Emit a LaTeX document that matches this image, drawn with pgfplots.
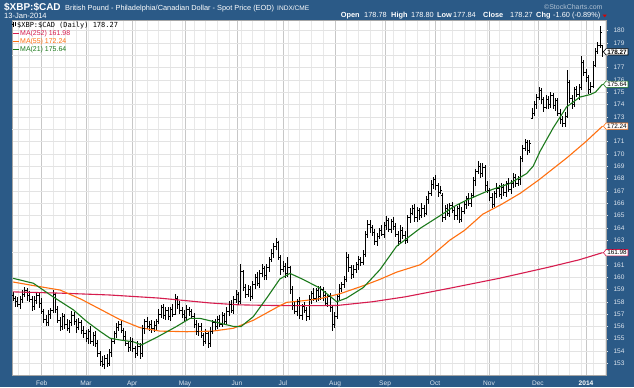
\documentclass[border=0pt]{standalone}
\usepackage{fontspec}
\setmainfont{Liberation Sans}
\newfontfamily\monof{DejaVu Sans Mono}
\usepackage{pgfplots}
\usepackage{pgfplotstable}
\pgfplotsset{compat=1.18}
\usetikzlibrary{shapes.symbols}
\definecolor{scblue}{RGB}{43,90,135}
\definecolor{ma252}{RGB}{214,28,78}
\definecolor{ma55}{RGB}{255,112,16}
\definecolor{ma21}{RGB}{28,122,28}
\definecolor{ticktxt}{RGB}{220,228,238}
\definecolor{scgray}{RGB}{175,192,210}
\pgfdeclareplotmark{ctick}{\pgfpathmoveto{\pgfqpoint{0pt}{0pt}}\pgfpathlineto{\pgfqpoint{1.4pt}{0pt}}\pgfusepathqstroke}
\pgfdeclareplotmark{otick}{\pgfpathmoveto{\pgfqpoint{-1.4pt}{0pt}}\pgfpathlineto{\pgfqpoint{0pt}{0pt}}\pgfusepathqstroke}
\newcommand\fs[1]{\fontsize{#1}{#1}\selectfont}

\pgfplotstableread{
i o h l c
0 158.5 158.8 158.05 158.3
1 158.3 158.5 157.6 158.0
2 158.0 158.4 157.6 157.8
3 157.8 158.45 157.45 158.2
4 158.2 158.95 157.9 158.6
5 158.6 159.2 158.35 158.9
6 158.9 159.1 158.1 158.5
7 158.5 158.9 158.0 158.2
8 158.2 158.45 157.25 157.6
9 157.6 158.45 157.3 158.1
10 158.1 158.8 157.85 158.5
11 158.5 158.7 157.5 157.9
12 157.9 158.3 157.0 157.2
13 157.2 157.45 156.25 156.6
14 156.6 156.95 156.0 156.3
15 156.3 157.3 156.05 157.0
16 157.0 157.5 156.6 157.3
17 157.3 158.95 157.1 158.6
18 158.6 158.7 157.05 157.4
19 157.4 157.65 156.3 156.5
20 156.5 156.8 155.65 156.0
21 156.0 157.1 155.75 156.8
22 156.8 157.0 155.8 156.2
23 156.2 156.6 155.6 155.8
24 155.8 156.55 155.45 156.3
25 156.3 157.25 156.0 156.9
26 156.9 157.2 156.15 156.4
27 156.4 156.6 155.5 155.9
28 155.9 156.7 155.7 156.3
29 156.3 156.55 155.35 155.7
30 155.7 156.05 155.1 155.4
31 155.4 155.7 154.75 155.0
32 155.0 155.8 154.6 155.6
33 155.6 156.0 154.6 154.8
34 154.8 155.55 154.45 155.3
35 155.3 155.65 154.3 154.6
36 154.6 154.9 153.55 153.8
37 153.8 154.0 152.8 153.2
38 153.2 153.6 152.7 152.9
39 152.9 153.65 152.55 153.4
40 153.4 153.75 152.7 153.0
41 153.0 154.2 152.75 153.9
42 153.9 155.0 153.5 154.8
43 154.8 155.6 154.6 155.4
44 155.4 156.25 155.05 155.9
45 155.9 156.45 155.6 156.2
46 156.2 156.5 155.45 155.7
47 155.7 155.9 154.8 155.2
48 155.2 155.6 154.4 154.6
49 154.6 154.85 153.95 154.3
50 154.3 155.15 154.0 154.8
51 154.8 155.1 153.95 154.2
52 154.2 154.4 153.4 153.8
53 153.8 154.8 153.6 154.4
54 154.4 154.65 153.35 153.7
55 153.8 156.15 153.5 155.8
56 155.8 156.6 155.4 156.4
57 156.4 156.8 155.8 156.0
58 156.0 156.45 155.65 156.2
59 156.2 156.55 155.5 155.8
60 155.8 156.4 155.55 156.1
61 156.1 156.6 155.7 156.4
62 156.4 157.4 156.2 157.0
63 157.0 157.75 156.65 157.5
64 157.5 157.85 156.6 156.9
65 156.9 157.55 156.55 157.3
66 157.3 157.6 156.5 156.8
67 156.8 157.6 156.4 157.4
68 157.4 157.8 156.8 157.0
69 157.0 158.6 156.9 158.3
70 158.3 158.5 157.45 157.8
71 157.8 158.1 157.0 157.3
72 157.3 157.55 156.7 157.0
73 157.0 157.35 156.45 156.7
74 156.7 157.7 156.4 157.4
75 157.4 157.6 156.85 157.2
76 157.2 157.4 156.6 156.8
77 156.8 157.05 155.85 156.2
78 156.2 156.5 155.3 155.6
79 155.6 156.25 155.2 156.0
80 156.0 156.3 155.05 155.3
81 155.3 155.5 154.4 154.8
82 154.8 155.8 154.6 155.4
83 155.4 155.65 154.25 154.6
84 154.6 155.95 154.3 155.6
85 155.6 156.5 155.4 156.3
86 156.3 156.6 155.7 156.0
87 156.0 156.85 155.8 156.6
88 156.6 156.95 155.95 156.2
89 156.2 157.2 155.95 156.9
90 156.9 157.1 156.1 156.4
91 156.4 157.6 156.2 157.2
92 157.2 158.05 156.85 157.8
93 157.8 158.15 157.1 157.3
94 157.3 158.45 157.0 158.2
95 158.2 158.95 157.9 158.6
96 158.6 158.8 157.7 158.0
97 158.0 161.1 157.8 160.5
98 160.5 160.6 158.9 159.2
99 159.2 159.45 158.3 158.6
100 158.6 159.35 158.35 159.0
101 159.0 159.25 158.1 158.4
102 158.4 159.7 158.2 159.4
103 159.4 160.25 159.05 160.0
104 160.0 160.4 159.3 159.5
105 159.5 160.55 159.15 160.3
106 160.3 161.05 160.0 160.7
107 160.7 160.9 159.8 160.1
108 160.1 161.1 159.75 160.8
109 160.8 161.6 160.4 161.4
110 161.4 162.3 161.2 161.9
111 161.9 162.75 161.55 162.5
112 162.5 163.15 162.2 162.8
113 162.8 162.9 161.35 161.6
114 161.6 161.8 160.2 160.6
115 160.6 161.3 160.4 160.9
116 160.9 161.15 159.95 160.3
117 160.3 161.65 160.0 160.8
118 160.8 160.9 158.6 159.0
119 159.0 159.25 157.3 157.7
120 157.7 158.1 157.0 157.2
121 157.2 158.25 156.85 158.0
122 158.0 158.35 156.6 156.9
123 156.9 157.8 156.5 157.6
124 157.6 158.0 157.1 157.3
125 157.3 157.55 156.45 156.8
126 156.8 158.55 156.5 158.2
127 158.2 158.9 157.8 158.7
128 158.7 159.1 158.1 158.3
129 158.3 159.15 157.95 158.9
130 158.9 159.25 158.1 158.4
131 158.4 159.3 158.15 159.0
132 159.0 159.2 158.1 158.5
133 158.5 158.9 157.7 157.9
134 157.9 158.65 157.55 158.4
135 158.4 158.75 157.2 157.5
136 157.5 157.7 155.6 156.2
137 156.2 157.2 155.9 156.8
138 156.8 158.65 156.6 158.4
139 158.4 159.45 158.15 159.1
140 159.1 159.6 158.8 159.4
141 159.4 160.1 159.1 159.8
142 159.8 162.0 159.6 161.6
143 161.6 161.85 160.45 160.8
144 160.8 161.0 159.85 160.2
145 160.2 160.95 159.9 160.6
146 160.6 161.25 160.3 161.0
147 161.0 161.7 160.6 161.4
148 161.4 161.6 160.9 161.2
149 161.2 162.2 161.0 161.8
150 161.8 163.75 161.6 163.5
151 163.5 164.65 163.2 164.3
152 164.3 164.6 163.6 164.0
153 164.0 164.25 163.35 163.6
154 163.6 163.9 162.6 162.9
155 162.9 163.6 162.55 163.3
156 163.3 164.0 163.05 163.8
157 163.8 164.2 163.3 163.5
158 163.5 164.45 163.15 164.2
159 164.2 164.95 163.8 164.6
160 164.6 164.8 163.65 163.9
161 163.9 164.75 163.55 164.5
162 164.5 164.85 163.8 164.1
163 164.1 164.4 163.25 163.5
164 163.5 163.7 162.5 162.9
165 162.9 164.2 162.7 163.8
166 163.8 164.05 163.05 163.4
167 163.4 163.75 162.7 163.0
168 163.0 165.05 162.8 164.8
169 164.8 165.6 164.4 165.2
170 165.2 165.85 165.0 165.6
171 165.6 165.95 164.45 164.8
172 164.8 165.7 164.5 165.4
173 165.4 165.6 164.6 165.0
174 165.0 166.0 164.8 165.6
175 165.6 165.85 164.85 165.2
176 165.2 166.6 165.0 166.3
177 166.3 167.0 165.9 166.8
178 166.8 167.9 166.6 167.5
179 167.5 168.15 167.15 167.9
180 167.9 168.25 167.1 167.4
181 167.4 167.6 166.5 166.9
182 166.9 167.4 166.7 167.0
183 166.6 166.8 164.45 164.8
184 164.8 165.85 164.6 165.6
185 165.6 165.95 164.95 165.2
186 165.2 166.0 164.85 165.8
187 165.8 166.1 165.2 165.4
188 165.4 165.65 164.65 165.0
189 165.0 165.8 164.6 165.6
190 165.6 165.9 164.4 164.7
191 164.7 165.65 164.45 165.3
192 165.3 166.2 165.1 165.9
193 165.9 166.6 165.5 166.4
194 166.4 166.8 165.8 166.0
195 166.0 166.85 165.65 166.6
196 166.6 168.15 166.4 167.8
197 167.8 168.8 167.4 168.6
198 168.6 169.4 168.4 169.0
199 169.0 169.25 168.05 168.4
200 168.4 169.25 168.1 168.9
201 168.9 169.1 167.0 167.4
202 167.4 167.8 166.8 167.0
203 167.0 167.25 166.15 166.5
204 166.5 166.85 165.6 165.9
205 165.9 167.0 165.7 166.8
206 166.8 167.6 166.4 167.2
207 167.2 167.45 166.5 166.7
208 166.7 167.65 166.35 167.3
209 167.3 167.55 166.6 166.9
210 166.9 167.8 166.5 167.6
211 167.6 168.0 166.9 167.1
212 167.1 167.85 166.75 167.6
213 167.6 168.45 167.2 168.1
214 168.1 168.4 167.3 167.6
215 167.6 168.2 167.4 167.9
216 167.9 169.8 167.5 169.6
217 169.6 170.75 169.35 170.4
218 170.4 171.2 170.2 170.9
219 170.9 171.1 169.9 170.3
220 170.3 171.15 170.1 170.8
221 172.9 173.7 172.8 173.3
222 173.3 174.3 173.05 174.0
223 174.0 174.85 173.6 174.6
224 174.6 175.4 174.4 175.1
225 175.1 175.3 174.05 174.4
226 174.4 174.6 173.4 173.8
227 173.8 174.8 173.6 174.4
228 174.4 174.65 173.65 174.0
229 174.0 175.05 173.7 174.7
230 174.7 174.95 173.65 173.9
231 173.9 174.5 173.5 174.3
232 174.3 174.55 173.1 173.3
233 173.3 173.6 172.45 172.8
234 172.8 173.05 172.2 172.5
235 172.5 173.35 172.2 173.0
236 173.0 176.8 172.9 175.8
237 175.8 176.0 174.1 174.5
238 174.5 174.75 173.65 174.0
239 174.0 175.45 173.8 175.2
240 175.2 175.5 174.6 174.8
241 174.8 175.7 174.4 175.4
242 175.4 177.9 175.2 177.4
243 177.4 177.6 176.3 176.6
244 176.6 176.85 175.85 176.2
245 176.2 176.4 174.85 175.2
246 175.2 175.8 174.9 175.5
247 175.5 177.5 175.3 177.2
248 177.2 178.6 177.0 178.3
249 178.3 179.1 178.1 178.8
250 178.8 180.4 178.6 179.87
251 178.78 178.80 177.84 178.27
}\ohlc

\begin{document}
\begin{tikzpicture}[x=1bp,y=1bp]
\fill[scblue] (0,0) rectangle (634,387);
\begin{axis}[at={(12bp,12bp)}, anchor=south west, scale only axis,
  width=594bp, height=355bp,
  xmin=-0.5, xmax=252.5, ymin=152.06, ymax=180.85,
  axis background/.style={fill=white},
  axis line style={draw=black!35, line width=0.4bp},
  xtick={12.15,31,50.7,73.2,95.3,114.9,137.1,158.4,179.7,202.7,223.5,244},
  xticklabels={Feb,Mar,Apr,May,Jun,Jul,Aug,Sep,Oct,Nov,Dec,\textcolor{white}{\bfseries 2014}},
  minor xtick={2,7,...,252},
  ytick={153,154,155,156,157,158,159,160,161,163,164,165,166,167,168,169,170,171,173,174,175,176,177,179,180},
  extra y ticks={162,172,178}, extra y tick labels={},
  extra y tick style={grid=major},
  yticklabel pos=right, ytick pos=right, xtick pos=bottom,
  ymajorgrids, xmajorgrids, xminorgrids,
  major x grid style={draw=black!22, line width=0.5bp},
  minor x grid style={draw=black!9, line width=0.5bp},
  major y grid style={draw=black!11, line width=0.5bp},
  xtick style={draw=none},
  ytick style={draw=ticktxt, line width=0.5bp},
  tick align=outside, major tick length=2bp, minor tick length=0bp,
  ticklabel style={font=\fs{6.6}, text=ticktxt},
  yticklabel style={xshift=2bp},
  /pgf/number format/assume math mode=true,
]
\addplot[draw=none, only marks, mark=ctick, mark options={black, line width=0.85bp},
  error bars/.cd, y dir=both, y explicit, error mark=none,
  error bar style={black, line width=0.85bp}]
  table[x=i, y=c, y error plus expr=\thisrow{h}-\thisrow{c}, y error minus expr=\thisrow{c}-\thisrow{l}] {\ohlc};
\addplot[draw=none, only marks, mark=otick, mark options={black, line width=0.85bp}]
  table[x=i, y=o] {\ohlc};
\addplot[ma252, line width=1.1bp] coordinates {
(0,158.8) (20,158.7) (41,158.55) (62,158.3) (84,157.9) (96,157.75) (110,157.7) (124,157.68)
(138,157.7) (153,158.0) (167,158.4) (186,159.1) (207,159.9) (228,160.8) (241,161.4) (251,161.98)};
\addplot[ma55, line width=1.1bp] coordinates {
(0,159.6) (9,159.3) (20,158.95) (29,158.2) (37,157.4) (45.5,156.55) (54,155.9) (62.5,155.62)
(74,155.57) (85,155.62) (93.8,155.85) (102.3,156.5) (112.8,157.6) (116.5,157.95) (124.3,158.1)
(130.7,158.25) (139.2,158.65) (149.1,159.3) (156,159.8) (163.3,160.4) (173.3,161.0) (176.2,161.4)
(186,163.0) (192.3,163.8) (200,165.1) (208,165.9) (216,166.8) (224,167.9) (236,169.7) (244,171.0) (251,172.24)};
\addplot[ma21, line width=1.1bp] coordinates {
(0,159.9) (8.6,159.5) (17,158.4) (25.6,157.35) (31.3,156.4) (37,155.6) (41.2,155.05) (45.5,154.9)
(51.2,154.75) (54.7,154.5) (61,155.1) (69.6,156.0) (75.3,156.65) (79.6,156.65) (85.2,156.4)
(93.8,156.0) (97,155.98) (102.3,156.8) (108,158.3) (113.6,159.85) (117.9,160.3) (123.6,159.8)
(130.7,159.1) (137.8,158.0) (142,158.3) (149.1,159.15) (156.2,160.6) (163.3,162.5) (173.3,163.95)
(183.2,165.15) (187.5,165.7) (193.2,166.25) (201.7,166.95) (211.6,167.6) (218.7,168.4) (221.5,169.0)
(224.4,170.2) (230,172.1) (235.7,173.8) (241.4,174.6) (245.7,174.8) (248,175.0) (251,175.64)};
\coordinate (pA) at (axis cs:252.5,178.27);
\coordinate (pB) at (axis cs:252.5,175.64);
\coordinate (pC) at (axis cs:252.5,172.24);
\coordinate (pD) at (axis cs:252.5,161.98);
\end{axis}
% value boxes
\tikzset{vbox/.style={shape=signal, signal to=west, signal pointer angle=100, draw=#1, fill=white,
  line width=0.6bp, inner xsep=1.2bp, inner ysep=0.9bp, text=black, anchor=west, xshift=-3bp, font=\fs{6.4}}}
\node[vbox=black, font=\fs{6.4}\bfseries] at (pA) {178.27};
\node[vbox=ma21] at (pB) {175.64};
\node[vbox=ma55] at (pC) {172.24};
\node[vbox=ma252] at (pD) {161.98};
% header
\node[anchor=base west, inner sep=0, text=white, font=\fs{10}\bfseries] at (4,376.3) {\$XBP:\$CAD};
\node[anchor=base west, inner sep=0, text=white, font=\fs{7.4}] at (65,376.8) {British Pound - Philadelphia/Canadian Dollar - Spot Price (EOD)};
\node[anchor=base west, inner sep=0, text=white, font=\fs{6.6}] at (277,376.8) {INDX/CME};
\node[anchor=base west, inner sep=0, text=white, font=\fs{7.6}] at (4,368.7) {13-Jan-2014};
\node[anchor=base west, inner sep=0, text=scgray, font=\fs{7}] at (544,377.7) {\textcopyright StockCharts.com};
\begin{scope}[every node/.style={anchor=base west, inner sep=0, text=white, font=\fs{7.4}}]
\node at (340.7,369.3) {\bfseries Open};
\node at (364,369.3) {178.78};
\node at (391,369.3) {\bfseries High};
\node at (411,369.3) {178.80};
\node at (437,369.3) {\bfseries Low};
\node at (453,369.3) {177.84};
\node at (483,369.3) {\bfseries Close};
\node at (510,369.3) {178.27};
\node at (536,369.3) {\bfseries Chg};
\node at (553,369.3) {-1.60 (-0.89\%)};
\end{scope}
\fill[red!85!black] (602.7,372.3) -- (606.7,372.3) -- (604.7,369.7) -- cycle;
% legend
\draw[black, line width=0.6bp] (12.8,360) -- (12.8,364.5) (15,360.5) -- (15,365) (12,362.5) -- (12.8,362.5) (15,363.5) -- (15.8,363.5);
\node[anchor=base west, inner sep=0, font=\monof\fs{7}] at (17,359.7) {\$XBP:\$CAD (Daily) 178.27};
\draw[ma252, line width=1.3bp] (12.7,353.6) -- (19.3,353.6);
\node[anchor=base west, inner sep=0, text=ma252, font=\fs{7}] at (20,351.3) {MA(252) 161.98};
\draw[ma55, line width=1.3bp] (12.7,345.6) -- (19.3,345.6);
\node[anchor=base west, inner sep=0, text=ma55, font=\fs{7}] at (20,343.3) {MA(55) 172.24};
\draw[ma21, line width=1.3bp] (12.7,337.6) -- (19.3,337.6);
\node[anchor=base west, inner sep=0, text=ma21, font=\fs{7}] at (20,335.3) {MA(21) 175.64};
\pgfresetboundingbox
\path[use as bounding box] (0,0) rectangle (634,387);
\end{tikzpicture}
\end{document}
